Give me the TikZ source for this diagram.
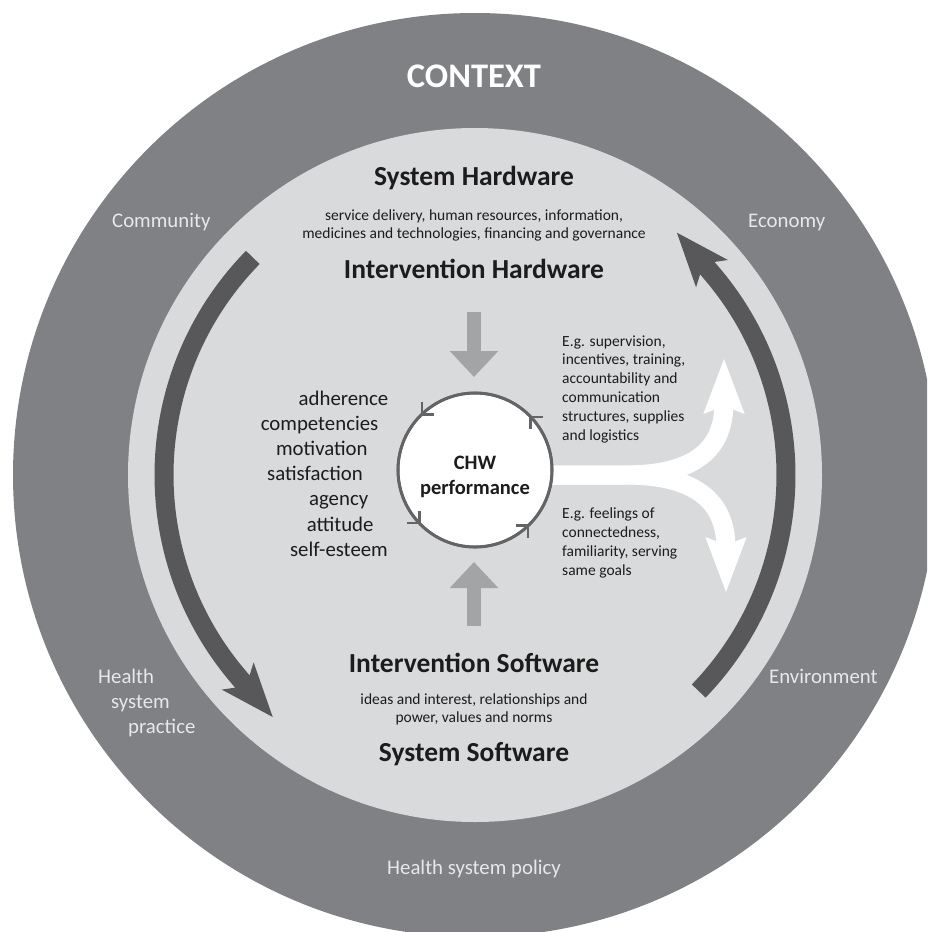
\documentclass[tikz,border=0pt]{standalone}
\usepackage{fontspec}
\setmainfont{Carlito}
\usetikzlibrary{arrows.meta,decorations.markings}
\definecolor{outergray}{RGB}{128,129,132}
\definecolor{lightgray}{RGB}{217,218,219}
\definecolor{darkarrow}{RGB}{88,88,90}
\definecolor{midarrow}{RGB}{163,164,166}
\definecolor{circline}{RGB}{100,100,102}
\definecolor{ctxtext}{RGB}{232,232,234}
\definecolor{maintext}{RGB}{28,28,28}
\begin{document}
\begin{tikzpicture}[x=1pt,y=1pt,
  ctx/.style={text=ctxtext, font=\fontsize{20.8}{25}\selectfont, inner sep=0pt},
  titlebox/.style={text=maintext, font=\bfseries\fontsize{27.5}{30}\selectfont, inner sep=0pt, anchor=base},
  smalltxt/.style={text=maintext, font=\fontsize{15.5}{18.8}\selectfont, inner sep=0pt},
  listtxt/.style={text=maintext, font=\fontsize{20.8}{25}\selectfont, inner sep=0pt, anchor=base east},
  cyclearrow/.style={draw=darkarrow, line width=19pt, -{Stealth[length=53pt,width=40pt,inset=12pt]}},
  inarrow/.style={draw=midarrow, line width=14pt, -{Triangle[length=26pt,width=47pt]}},
  whitearrow/.style={draw=white, line width=19pt, -{Stealth[length=54pt,width=38pt,inset=6pt]}},
  cyclemark/.style={decoration={markings,
      mark=at position 0.125 with {\arrow{Straight Barb[length=8.5pt,width=17pt,line width=2.6pt]}},
      mark=at position 0.375 with {\arrow{Straight Barb[length=8.5pt,width=17pt,line width=2.6pt]}},
      mark=at position 0.625 with {\arrow{Straight Barb[length=8.5pt,width=17pt,line width=2.6pt]}},
      mark=at position 0.875 with {\arrow{Straight Barb[length=8.5pt,width=17pt,line width=2.6pt]}}},
    postaction=decorate}
]
\useasboundingbox (0,0) rectangle (927,-932);
\clip (0,0) rectangle (927,-932);
\fill[white] (0,0) rectangle (927,-932);
\coordinate (c) at (475,-475);
\fill[outergray] (c) circle (462);
\fill[lightgray] (c) circle (347);

% cycle arrows
\draw[cyclearrow] ([shift={(135.6:311)}]c) arc[start angle=135.6,end angle=220.5,radius=311] -- ++(310.5:53);
\draw[cyclearrow] ([shift={(-44:311)}]c) arc[start angle=-44,end angle=40.6,radius=311] -- ++(130.6:53);

% vertical arrows
\coordinate (topfrom) at (474,-312);
\coordinate (topto) at (474,-377);
\coordinate (botfrom) at (474,-626);
\coordinate (botto) at (474,-562);
\draw[inarrow] (topfrom) -- (topto);
\draw[inarrow] (botfrom) -- (botto);

% white branching arrow
\coordinate (bstart) at (500,-475);
\coordinate (bsplit) at (625,-475);
\coordinate (uptip) at (724,-358);
\coordinate (downtip) at (726,-593);
\draw[whitearrow] (bstart) -- (bsplit) .. controls +(62,0) and +(0,-97) .. (uptip);
\draw[whitearrow] (bstart) -- (bsplit) .. controls +(62,0) and +(0,98) .. (downtip);

% central circle
\node[circle, draw=circline, line width=3pt, fill=white, minimum size=154pt, inner sep=0pt] (chw) at (475,-470) {};
\path[draw=circline, line width=2.6pt, cyclemark] (chw.center) circle (77);
\node[text=maintext, font=\bfseries\fontsize{20.5}{24}\selectfont, inner sep=0pt, anchor=base] (chw1) at (475,-469) {CHW};
\node[text=maintext, font=\bfseries\fontsize{20.5}{24}\selectfont, inner sep=0pt, anchor=base] (chw2) at (475,-494) {performance};

% titles
\node[text=white, font=\bfseries\fontsize{34.5}{40}\selectfont, inner sep=0pt, anchor=base] (context) at (474,-87) {CONTEXT};
\node[titlebox] (syshw) at (474,-185) {System Hardware};
\node[smalltxt, anchor=base] (hw1) at (474,-220) {service delivery, human resources, information,};
\node[smalltxt, anchor=base] (hw2) at (474,-238) {medicines and technologies, financing and governance};
\node[titlebox] (inthw) at (474,-278) {Intervention Hardware};
\node[titlebox] (intsw) at (474,-672) {Intervention Software};
\node[smalltxt, anchor=base] (sw1) at (474,-704) {ideas and interest, relationships and};
\node[smalltxt, anchor=base] (sw2) at (474,-722) {power, values and norms};
\node[titlebox] (syssw) at (474,-761) {System Software};

% list
\foreach \t/\x/\y [count=\i] in {adherence/388.5/405, competencies/378.5/430.2, motivation/367.8/455.4, satisfaction/363/480.6, agency/368.4/505.8, attitude/373.7/531, self-esteem/388/556.2}
  \node[listtxt] (list\i) at (\x,-\y) {\t};

% right texts
\foreach \t/\y [count=\i] in {{E.g. supervision,}/346, {incentives, training,}/364.9, {accountability and}/383.8, {communication}/402.7, {structures, supplies}/421.6, {and logistics}/440.5}
  \node[smalltxt, anchor=base west] (ra\i) at (562,-\y) {\t};
\foreach \t/\y [count=\i] in {{E.g. feelings of}/518, {connectedness,}/537, {familiarity, serving}/556, {same goals}/575}
  \node[smalltxt, anchor=base west] (rb\i) at (562,-\y) {\t};

% context labels
\node[ctx, anchor=base west] (community) at (112,-227) {Community};
\node[ctx, anchor=base west] (economy) at (748,-227) {Economy};
\node[ctx, anchor=base west] (environment) at (769,-683) {Environment};
\node[ctx, anchor=base west] (health1) at (98,-683) {Health};
\node[ctx, anchor=base west] (health2) at (111,-708.5) {system};
\node[ctx, anchor=base west] (health3) at (128,-733) {practice};
\node[ctx, anchor=base] (policy) at (474,-874) {Health system policy};
\end{tikzpicture}
\end{document}
